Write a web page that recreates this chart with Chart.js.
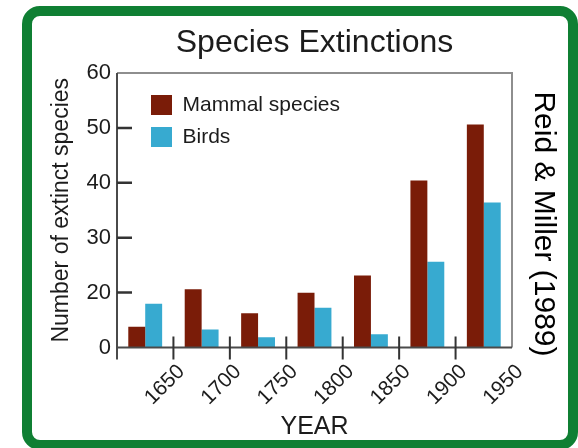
<!DOCTYPE html>
<html>
<head>
<meta charset="utf-8">
<script src="https://cdn.jsdelivr.net/npm/chart.js@4.4.1/dist/chart.umd.min.js"></script>
<style>
  html, body { margin: 0; padding: 0; background: #fff; }
  #wrap { position: relative; width: 578px; height: 448px; overflow: hidden; background: #fff; }
  #chart { position: absolute; left: 0; top: 0; }
  #frame {
    position: absolute; left: 22px; top: 6px; width: 556px; height: 444px;
    box-sizing: border-box; border: 10px solid #0f7f33; border-radius: 18px;
    pointer-events: none;
  }
</style>
</head>
<body>
<div id="wrap">
  <canvas id="chart" width="578" height="448"></canvas>
  <div id="frame"></div>
</div>
<script>
// Extinctions per 50-year period
const periods = ['1600-1649', '1650-1699', '1700-1749', '1750-1799', '1800-1849', '1850-1899', '1900-1949'];
const mammalSpecies = [7.6, 20.6, 12.5, 19.9, 23.1, 40.4, 50.6];
const birds = [15.9, 6.6, 3.7, 14.5, 4.8, 25.6, 36.4];

// Axis ticks
const yTickValues = [0, 20, 30, 40, 50, 60];
const yearTicks = [1600, 1650, 1700, 1750, 1800, 1850, 1900, 1950];
const yearLabels = [1650, 1700, 1750, 1800, 1850, 1900, 1950];

const FONT = "'Liberation Sans', Arial, Helvetica, sans-serif";
const TEXT = '#1c1c1c';

// Value axis whose labelled ticks are evenly spaced; values are
// interpolated linearly between neighbouring ticks.
class EvenTickScale extends Chart.LinearScale {
  getPixelForValue(value) {
    const s = yTickValues, n = s.length - 1;
    let i = 0;
    while (i < n - 1 && value > s[i + 1]) i++;
    const dec = (i + (value - s[i]) / (s[i + 1] - s[i])) / n;
    return this.getPixelForDecimal(dec);
  }
  getValueForPixel(pixel) {
    const s = yTickValues, n = s.length - 1;
    const pos = this.getDecimalForPixel(pixel) * n;
    const i = Math.min(n - 1, Math.max(0, Math.floor(pos)));
    return s[i] + (pos - i) * (s[i + 1] - s[i]);
  }
}
EvenTickScale.id = 'evenTick';
EvenTickScale.defaults = Chart.LinearScale.defaults;
Chart.register(EvenTickScale);

// Plot frame, axis lines and inward/crossing tick marks
const framePlugin = {
  id: 'plotFrame',
  afterDatasetsDraw(chart) {
    const { ctx, chartArea: a, scales } = chart;
    ctx.save();
    ctx.lineCap = 'butt';
    ctx.strokeStyle = '#8e8e8e';
    ctx.lineWidth = 2;
    ctx.beginPath();
    ctx.moveTo(a.left, a.top);
    ctx.lineTo(a.right, a.top);
    ctx.lineTo(a.right, a.bottom);
    ctx.stroke();

    ctx.strokeStyle = '#4a4a4a';
    ctx.beginPath();
    ctx.moveTo(a.left, a.top);
    ctx.lineTo(a.left, a.bottom + 12);
    ctx.moveTo(a.left, a.bottom);
    ctx.lineTo(a.right, a.bottom);
    ctx.stroke();

    ctx.strokeStyle = '#333';
    ctx.lineWidth = 2.5;
    ctx.beginPath();
    scales.y.ticks.forEach(t => {
      if (t.value > yTickValues[0] && t.value < yTickValues[yTickValues.length - 1]) {
        const py = scales.y.getPixelForValue(t.value);
        ctx.moveTo(a.left, py);
        ctx.lineTo(a.left + 15, py);
      }
    });
    ctx.stroke();

    ctx.lineWidth = 2;
    ctx.beginPath();
    scales.x2.ticks.forEach(t => {
      if (t.value > yearTicks[0] && t.value < yearTicks[yearTicks.length - 1]) {
        const px = scales.x2.getPixelForValue(t.value);
        ctx.moveTo(px, a.bottom - 11);
        ctx.lineTo(px, a.bottom + 12);
      }
    });
    ctx.stroke();
    ctx.restore();
  }
};

// Inset the legend from the top-left corner of the plot
const legendInset = {
  id: 'legendInset',
  afterLayout(chart) {
    const lg = chart.legend;
    if (lg) {
      lg.left = chart.chartArea.left + 23;
      lg.top = chart.chartArea.top + 10.5;
    }
  }
};

new Chart(document.getElementById('chart'), {
  type: 'bar',
  data: {
    labels: periods,
    datasets: [
      { label: 'Mammal species', data: mammalSpecies, backgroundColor: '#7a1c08',
        borderWidth: 0, categoryPercentage: 0.6, barPercentage: 1.0, xAxisID: 'x', yAxisID: 'y' },
      { label: 'Birds', data: birds, backgroundColor: '#37aad0',
        borderWidth: 0, categoryPercentage: 0.6, barPercentage: 1.0, xAxisID: 'x', yAxisID: 'y' }
    ]
  },
  options: {
    responsive: false,
    animation: false,
    devicePixelRatio: 1,
    layout: { padding: { left: 36, right: 17, top: 0, bottom: 0 } },
    plugins: {
      title: {
        display: true, text: 'Species Extinctions', fullSize: false, color: TEXT,
        font: { family: FONT, size: 32, weight: 'normal' }, padding: { top: 24, bottom: 10.6 }
      },
      subtitle: {
        display: true, position: 'right', text: 'Reid & Miller (1989)', color: '#000',
        font: { family: FONT, size: 30, weight: 'normal' }, padding: { top: 0, bottom: 13 }
      },
      legend: {
        position: 'chartArea', align: 'start',
        labels: { boxWidth: 21, boxHeight: 20, padding: 11, color: TEXT, font: { family: FONT, size: 21 } }
      },
      tooltip: { enabled: false }
    },
    scales: {
      x: { type: 'category', display: false, offset: true },
      x2: {
        type: 'linear', position: 'bottom', offset: false,
        min: yearTicks[0], max: yearTicks[yearTicks.length - 1],
        afterBuildTicks: s => { s.ticks = yearTicks.map(v => ({ value: v })); },
        afterFit: s => { s.height = 100.5; s.paddingLeft = 0; s.paddingRight = 0; },
        grid: { display: false, drawTicks: false, offset: false },
        border: { display: false },
        ticks: {
          autoSkip: false, minRotation: 45, maxRotation: 45, padding: 12, labelOffset: 8,
          color: TEXT, font: { family: FONT, size: 21 },
          callback: v => (yearLabels.includes(v) ? String(v) : '')
        },
        title: { display: true, text: 'YEAR', color: TEXT, font: { family: FONT, size: 25 }, padding: { top: 0, bottom: 6 } }
      },
      y: {
        type: 'evenTick', position: 'left', min: yTickValues[0], max: yTickValues[yTickValues.length - 1],
        afterBuildTicks: s => { s.ticks = yTickValues.map(v => ({ value: v })); },
        afterFit: s => { s.width = 81; },
        grid: { display: false, drawTicks: false },
        border: { display: false },
        ticks: { padding: 6, color: TEXT, font: { family: FONT, size: 22 }, callback: v => String(v) },
        title: { display: true, text: 'Number of extinct species', color: TEXT, font: { family: FONT, size: 23 }, padding: { top: 12, bottom: 0 } }
      }
    }
  },
  plugins: [framePlugin, legendInset]
});
</script>
</body>
</html>
